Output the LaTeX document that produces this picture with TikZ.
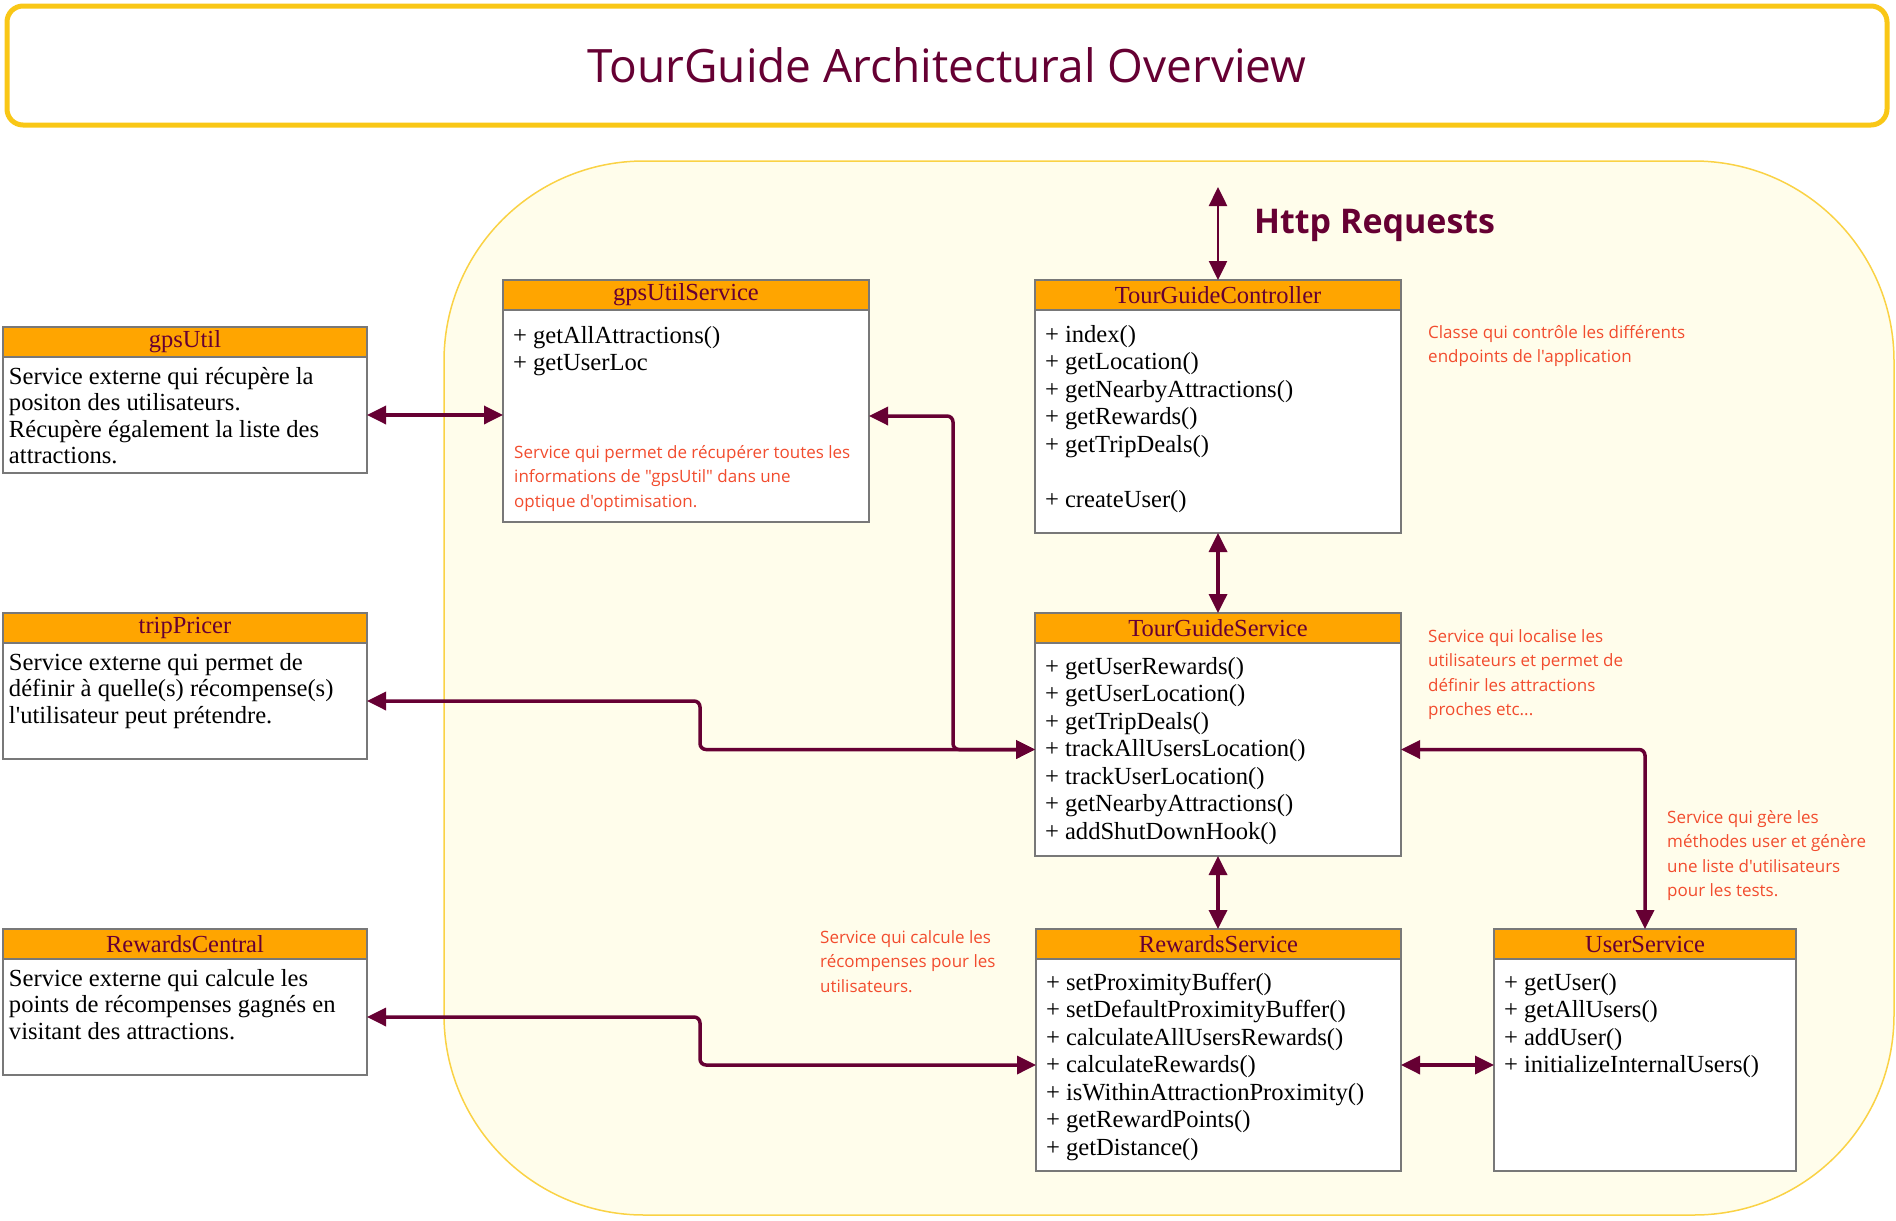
\documentclass[tikz,border=0pt]{standalone}
\usepackage{fontspec}
\setmainfont{Liberation Serif}[Ligatures=TeXOff]
\newfontfamily\opensans{Open Sans}[Ligatures=TeXOff]
\usetikzlibrary{arrows.meta,positioning,calc}
\definecolor{tgmaroon}{RGB}{102,0,51}
\definecolor{tgorange}{RGB}{255,165,0}
\definecolor{tggold}{RGB}{249,199,22}
\definecolor{tgcream}{RGB}{255,253,235}
\definecolor{tgnote}{RGB}{242,76,46}
\definecolor{tggray}{RGB}{120,120,120}
\tikzset{
 classhead/.style={rectangle,draw=tggray,line width=1.5pt,fill=tgorange,text=tgmaroon,minimum width=#1,minimum height=30pt,inner sep=0pt,outer sep=0pt,font=\fontsize{24.5}{27.5}\selectfont},
 classhead/.default=366pt,
 classbody/.style={rectangle,draw=tggray,line width=1.5pt,fill=white,text width=#1,inner xsep=10pt,inner ysep=0pt,outer sep=0pt,align=flush left,font=\fontsize{24.6}{27.5}\selectfont},
 classbody/.default=346pt,
 extbody/.style={classbody=352pt,inner xsep=6pt,font=\fontsize{24.6}{26.5}\selectfont},
 note/.style={text=tgnote,text width=#1,inner sep=0pt,anchor=base west,align=flush left,font=\opensans\fontsize{17}{24.5}\selectfont},
 note/.default=380pt,
 link/.style={{Triangle[length=19pt,width=18pt]}-{Triangle[length=19pt,width=18pt]},line width=3.5pt,draw=tgmaroon,rounded corners=6pt}}

\begin{document}
\begin{tikzpicture}[x=1pt,y=-1pt]
\useasboundingbox (0,0) rectangle (1896,1221);
\node[draw=tggold,line width=5pt,fill=white,rounded corners=16pt,minimum width=1880pt,minimum height=119pt,text=tgmaroon,font=\opensans\fontsize{46}{50}\selectfont] (title) at (947,65.5) {TourGuide Architectural Overview};
\node[draw=tggold!80,line width=1.5pt,fill=tgcream,rounded corners=200pt,minimum width=1450pt,minimum height=1054pt,inner sep=0pt] (core) at (1169,688) {};

% external services
\node[classhead=364pt] (gpsutilhead) at (185,342) {gpsUtil};
\node[extbody,below=0pt of gpsutilhead,text height=27pt,text depth=89pt] (gpsutil) {Service externe qui récupère la\\positon des utilisateurs.\\Récupère également la liste des\\attractions.};
\node[classhead=364pt] (trippricerhead) at (185,628) {tripPricer};
\node[extbody,below=0pt of trippricerhead,text height=27pt,text depth=89pt] (trippricer) {Service externe qui permet de\\définir à quelle(s) récompense(s)\\l'utilisateur peut prétendre.};
\node[classhead=364pt] (rewardscentralhead) at (185,944) {RewardsCentral};
\node[extbody,below=0pt of rewardscentralhead,text height=27pt,text depth=89pt] (rewardscentral) {Service externe qui calcule les\\points de récompenses gagnés en\\visitant des attractions.};

% application
\node[classhead] (gpsutilsvchead) at (686,295) {gpsUtilService};
\node[classbody,below=0pt of gpsutilsvchead,text height=33pt,text depth=179pt] (gpsutilsvc) {+ getAllAttractions()\\+ getUserLoc};
\node[note] (gpsutilsvcnote) at (514,458) {Service qui permet de récupérer toutes les\\informations de "gpsUtil" dans une\\optique d'optimisation.};

\node[classhead] (ctrlhead) at (1218,295) {TourGuideController};
\node[classbody,below=0pt of ctrlhead,text height=32pt,text depth=191pt] (ctrl) {+ index()\\+ getLocation()\\+ getNearbyAttractions()\\+ getRewards()\\+ getTripDeals()\\[27.5pt]+ createUser()};
\node[note] (ctrlnote) at (1428,338) {Classe qui contrôle les différents\\endpoints de l'application};

\node[classhead] (tgshead) at (1218,628) {TourGuideService};
\node[classbody,below=0pt of tgshead,text height=31pt,text depth=182pt] (tgs) {+ getUserRewards()\\+ getUserLocation()\\+ getTripDeals()\\+ trackAllUsersLocation()\\+ trackUserLocation()\\+ getNearbyAttractions()\\+ addShutDownHook()};
\node[note] (tgsnote) at (1428,642) {Service qui localise les\\utilisateurs et permet de\\définir les attractions\\proches etc...};

\node[classhead=365pt] (rshead) at (1218.5,944) {RewardsService};
\node[classbody=345pt,below=0pt of rshead,text height=31pt,text depth=181pt] (rs) {+ setProximityBuffer()\\+ setDefaultProximityBuffer()\\+ calculateAllUsersRewards()\\+ calculateRewards()\\+ isWithinAttractionProximity()\\+ getRewardPoints()\\+ getDistance()};
\node[note] (rsnote) at (820,943) {Service qui calcule les\\récompenses pour les\\utilisateurs.};

\node[classhead=302pt] (ushead) at (1645,944) {UserService};
\node[classbody=282pt,below=0pt of ushead,text height=31pt,text depth=181pt] (us) {+ getUser()\\+ getAllUsers()\\+ addUser()\\+ initializeInternalUsers()};
\node[note] (usnote) at (1667,823) {Service qui gère les\\méthodes user et génère\\une liste d'utilisateurs\\pour les tests.};

\coordinate (http) at (1218,187);
\node[anchor=base west,inner sep=0pt,text=tgmaroon,font=\opensans\bfseries\fontsize{34}{40}\selectfont] (httplabel) at (1254,233) {Http Requests};

% connectors
\draw[link,line width=2.5pt] (http) -- (ctrlhead.north);
\draw[link] (ctrl.south) -- (tgshead.north);
\draw[link] (tgs.south) -- (tgs.south |- rshead.north);
\draw[link] (gpsutil.east) -- (gpsutil.east -| gpsutilsvc.west);
\draw[link] (gpsutilsvc.east) -- ++(84,0) |- (tgs.west);
\draw[link] (trippricer.east) -- ++(333,0) |- (tgs.west);
\draw[link] (rewardscentral.east) -- ++(333,0) |- (rs.west);
\draw[link] (rs.east) -- (us.west);
\draw[link] (ushead.north) |- (tgs.east);
\end{tikzpicture}
\end{document}
